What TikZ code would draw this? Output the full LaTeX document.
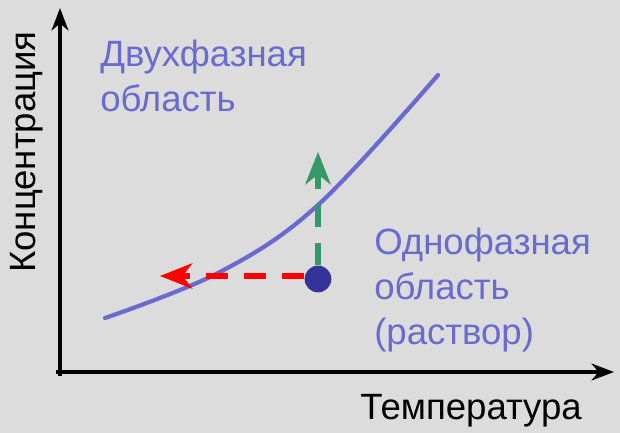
\documentclass[tikz,border=0pt]{standalone}
\usepackage{fontspec}
\setmainfont{Liberation Sans}
\usetikzlibrary{arrows.meta}
\definecolor{bgray}{HTML}{DCDCDC}
\definecolor{curveblue}{HTML}{6A6ACF}
\definecolor{dotblue}{HTML}{333399}
\definecolor{arrowgreen}{HTML}{339966}
\begin{document}
\begin{tikzpicture}[
        x=0.025cm, y=-0.025cm,
        axis/.style={line width=2.2pt, -{Stealth[length=16pt, width=12pt, inset=5pt]}},
        move/.style={line width=3.6pt, dash pattern=on 16pt off 11pt, -{Stealth[length=23pt, width=18pt, inset=7pt]}},
        label/.style={font=\fontsize{26}{32}\selectfont, inner sep=0pt, align=left},
        region/.style={label, text=curveblue, anchor=north west}
    ]
    \fill[bgray] (0,0) rectangle (620,433);
    \useasboundingbox (0,0) rectangle (620,433);

    % axes
    \coordinate (ytop) at (60,8);
    \coordinate (xend) at (614,372);
    \draw[axis] (60,376) -- (ytop);
    \draw[axis] (56,372) -- (xend);
    \node[label, rotate=90] (ylab) at (27,152) {Концентрация};
    \node[label] (xlab) at (471,411) {Температура};

    % phase boundary
    \draw[curveblue, line width=3pt, line cap=round]
        plot[smooth, tension=0.6] coordinates {(105,318) (220,272) (318,205) (438,75)};

    % regions
    \node[region] (two) at (100,40) {Двухфазная\\область};
    \node[region] (one) at (374,228) {Однофазная\\область\\(раствор)};

    % state point and its moves
    \node[circle, fill=dotblue, inner sep=0pt, minimum size=19pt] (pt) at (318,279) {};
    \coordinate (up) at (318,152);
    \coordinate (left) at (160,276);
    \draw[move, arrowgreen] (pt.north) -- (up);
    \draw[move, red] (pt.west |- left) -- (left);
\end{tikzpicture}
\end{document}
